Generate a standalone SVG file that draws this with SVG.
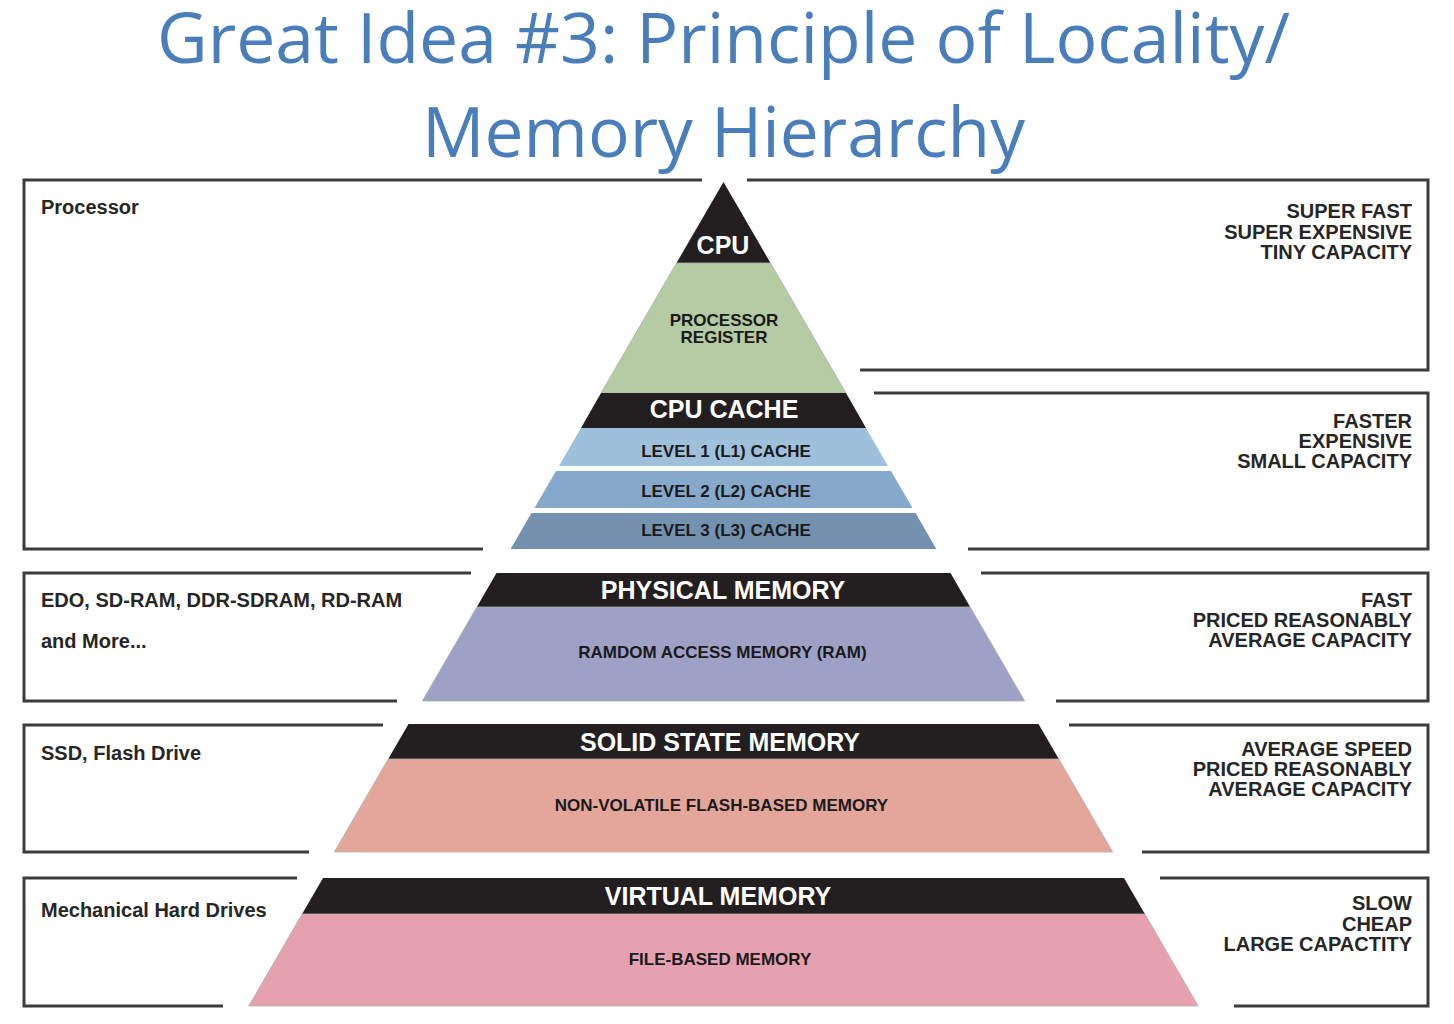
<svg xmlns="http://www.w3.org/2000/svg" width="1454" height="1024" viewBox="0 0 1454 1024">
<style>
.title{font-family:"Open Sans","Noto Sans",sans-serif;font-size:70px;fill:#4a7ebb}
.frame{fill:none;stroke:#3c3c3c;stroke-width:3}
.band{fill:#231f20}
.lbl{font-family:"Liberation Sans",Arial,sans-serif;font-weight:bold;font-size:20px;fill:#262626}
.rl{text-anchor:end}
.wh{font-family:"Liberation Sans",Arial,sans-serif;font-weight:bold;font-size:25px;fill:#ffffff;text-anchor:middle}
.dk{font-family:"Liberation Sans",Arial,sans-serif;font-weight:bold;font-size:17px;fill:#1a1a1a;text-anchor:middle}
.edge{stroke:#b0b0b0;stroke-width:0.8}
</style>
<rect width="1454" height="1024" fill="#ffffff"/>
<g id="title">
<text class="title" x="157" y="63" textLength="1133" lengthAdjust="spacingAndGlyphs">Great Idea #3: Principle of Locality/</text>
<text class="title" x="422" y="157" textLength="603" lengthAdjust="spacingAndGlyphs">Memory Hierarchy</text>
</g>
<g id="frames">
<polyline class="frame" points="702,180 24,180 24,549 483,549"/>
<polyline class="frame" points="747,180 1428,180 1428,370 860,370"/>
<polyline class="frame" points="874,393 1428,393 1428,549 968,549"/>
<polyline class="frame" points="471,573 24,573 24,701 397,701"/>
<polyline class="frame" points="981,573 1428,573 1428,701 1056,701"/>
<polyline class="frame" points="383,725 24,725 24,852 309,852"/>
<polyline class="frame" points="1069,725 1428,725 1428,852 1142,852"/>
<polyline class="frame" points="297,878 24,878 24,1006 223,1006"/>
<polyline class="frame" points="1160,878 1428,878 1428,1006 1234,1006"/>
</g>
<g id="tier-processor">
<polygon class="band" points="723.5,182 770.5,263 676.5,263"/>
<polygon fill="#b5cba4" class="edge" points="676.5,263 770.5,263 846,393 601,393"/>
<polygon class="band" points="601,393 846,393 866,428 581,428"/>
<polygon fill="#9ec0da" points="581,428 866,428 888,466 559,466"/>
<polygon fill="#86a9cb" points="556,471 891,471 912.5,508 534.5,508"/>
<polygon fill="#7491b0" points="531.5,513 915.5,513 936.4,549 510.6,549"/>
<text class="wh" x="723" y="254">CPU</text>
<text class="dk" x="724" y="326">PROCESSOR</text>
<text class="dk" x="724" y="343">REGISTER</text>
<text class="wh" x="724" y="418">CPU CACHE</text>
<text class="dk" x="726" y="457">LEVEL 1 (L1) CACHE</text>
<text class="dk" x="726" y="497">LEVEL 2 (L2) CACHE</text>
<text class="dk" x="726" y="536">LEVEL 3 (L3) CACHE</text>
</g>
<g id="tier-physical">
<polygon class="band" points="496.5,573 950.5,573 970.2,607 476.8,607"/>
<polygon fill="#9ea0c6" class="edge" points="476.8,607 970.2,607 1024.7,701 422.3,701"/>
<text class="wh" x="723" y="599">PHYSICAL MEMORY</text>
<text class="dk" x="722.5" y="658">RAMDOM ACCESS MEMORY (RAM)</text>
</g>
<g id="tier-ssd">
<polygon class="band" points="408.5,724 1038.5,724 1058.8,759 388.2,759"/>
<polygon fill="#e4a69b" class="edge" points="388.2,759 1058.8,759 1112.7,852 334.3,852"/>
<text class="wh" x="720" y="751">SOLID STATE MEMORY</text>
<text class="dk" x="721.5" y="811">NON-VOLATILE FLASH-BASED MEMORY</text>
</g>
<g id="tier-virtual">
<polygon class="band" points="323,878 1124,878 1144.9,914 302.1,914"/>
<polygon fill="#e6a1b0" class="edge" points="302.1,914 1144.9,914 1198.2,1006 248.8,1006"/>
<text class="wh" x="718" y="905">VIRTUAL MEMORY</text>
<text class="dk" x="720" y="965">FILE-BASED MEMORY</text>
</g>
<g id="left-labels">
<text class="lbl" x="41" y="214">Processor</text>
<text class="lbl" x="41" y="607">EDO, SD-RAM, DDR-SDRAM, RD-RAM</text>
<text class="lbl" x="41" y="648">and More...</text>
<text class="lbl" x="41" y="760">SSD, Flash Drive</text>
<text class="lbl" x="41" y="917">Mechanical Hard Drives</text>
</g>
<g id="right-labels">
<text class="lbl rl" x="1412" y="218">SUPER FAST</text>
<text class="lbl rl" x="1412" y="239">SUPER EXPENSIVE</text>
<text class="lbl rl" x="1412" y="259">TINY CAPACITY</text>
<text class="lbl rl" x="1412" y="428">FASTER</text>
<text class="lbl rl" x="1412" y="448">EXPENSIVE</text>
<text class="lbl rl" x="1412" y="468">SMALL CAPACITY</text>
<text class="lbl rl" x="1412" y="607">FAST</text>
<text class="lbl rl" x="1412" y="627">PRICED REASONABLY</text>
<text class="lbl rl" x="1412" y="647">AVERAGE CAPACITY</text>
<text class="lbl rl" x="1412" y="756">AVERAGE SPEED</text>
<text class="lbl rl" x="1412" y="776">PRICED REASONABLY</text>
<text class="lbl rl" x="1412" y="796">AVERAGE CAPACITY</text>
<text class="lbl rl" x="1412" y="910">SLOW</text>
<text class="lbl rl" x="1412" y="930.5">CHEAP</text>
<text class="lbl rl" x="1412" y="951">LARGE CAPACTITY</text>
</g>
</svg>
